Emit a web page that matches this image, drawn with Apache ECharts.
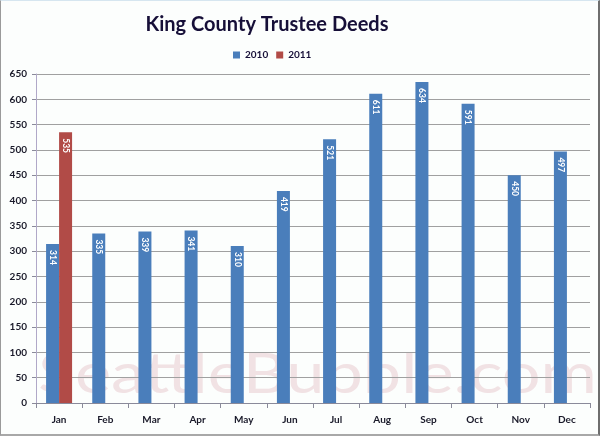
<!DOCTYPE html>
<html>
<head>
<meta charset="utf-8">
<script src="https://cdn.jsdelivr.net/npm/echarts@6/dist/echarts.min.js"></script>
<style>
html,body{margin:0;padding:0;background:#fff;}
#frame{position:absolute;left:0;top:0;width:600px;height:436px;box-sizing:border-box;
border-left:1px solid #9a9a9a;border-top:1px solid #d6e6f0;border-right:2px solid #6e6e6e;border-bottom:2px solid #a8a8a8;background:#fcfefd;}
#chart{position:absolute;left:0;top:0;width:600px;height:436px;}
</style>
</head>
<body>
<div id="frame"></div>
<div id="chart"></div>
<script>
const categories = ['Jan','Feb','Mar','Apr','May','Jun','Jul','Aug','Sep','Oct','Nov','Dec'];
const series2010 = [314,335,339,341,310,419,521,611,634,591,450,497];
const series2011 = [535,'-','-','-','-','-','-','-','-','-','-','-'];
const seriesNames = ['2010','2011'];
const titleText = 'King County Trustee Deeds';
const watermarkText = 'SeattleBubble.com';

const chart = echarts.init(document.getElementById('chart'), null, {renderer:'canvas'});
const labelStyle = {
  show: true, position: 'insideTop', rotate: -90, align: 'left', verticalAlign: 'middle',
  distance: 6, color: '#ffffff', fontSize: 8.5, fontWeight: 'bold', fontFamily: 'Lato, sans-serif'
};
chart.setOption({
  backgroundColor: 'transparent',
  animation: false,
  graphic: [{
    type: 'text', x: 38, y: 403, scaleX: 1.07, scaleY: 0.88, z: 0, silent: true,
    style: { text: watermarkText, font: '64px Lato, sans-serif', fill: '#f1e2e4', verticalAlign: 'bottom', align: 'left' }
  }],
  title: {
    text: titleText, left: 262, top: 10, textAlign: 'center',
    textStyle: { fontFamily: 'Lato, sans-serif', fontWeight: 'bold', fontSize: 20, color: '#160f38' }
  },
  legend: {
    data: seriesNames, left: 228, top: 45, itemWidth: 7, itemHeight: 7, itemGap: 8,
    icon: 'rect',
    textStyle: { fontFamily: 'Lato, sans-serif', fontWeight: 'bold', fontSize: 10, color: '#160f38' }
  },
  grid: { left: 36, right: 10, top: 74, bottom: 33, containLabel: false },
  xAxis: {
    type: 'category', data: categories,
    axisLine: { lineStyle: { color: '#8a8a9a' } },
    axisTick: { show: true, length: 5, lineStyle: { color: '#8a8a9a' } },
    axisLabel: { margin: 12, fontFamily: 'Lato, sans-serif', fontWeight: 'bold', fontSize: 10, color: '#1a1a2a' }
  },
  yAxis: {
    type: 'value', min: 0, max: 650, interval: 50,
    axisLine: { show: true, lineStyle: { color: '#b0a8c8' } },
    axisTick: { show: true, length: 4, lineStyle: { color: '#8a8a9a' } },
    axisLabel: { margin: 9, fontFamily: 'Lato, sans-serif', fontWeight: 'bold', fontSize: 10, color: '#1a1a2a' },
    splitLine: { lineStyle: { color: '#a0a0a0', width: 1 } }
  },
  series: [
    { name: seriesNames[0], type: 'bar', data: series2010, barWidth: 13, barGap: '0%', z: 2,
      itemStyle: { color: '#4a7ebb' }, label: labelStyle },
    { name: seriesNames[1], type: 'bar', data: series2011, barWidth: 13, barGap: '0%', z: 2,
      itemStyle: { color: '#b14b47' }, label: labelStyle }
  ]
});
</script>
</body>
</html>
